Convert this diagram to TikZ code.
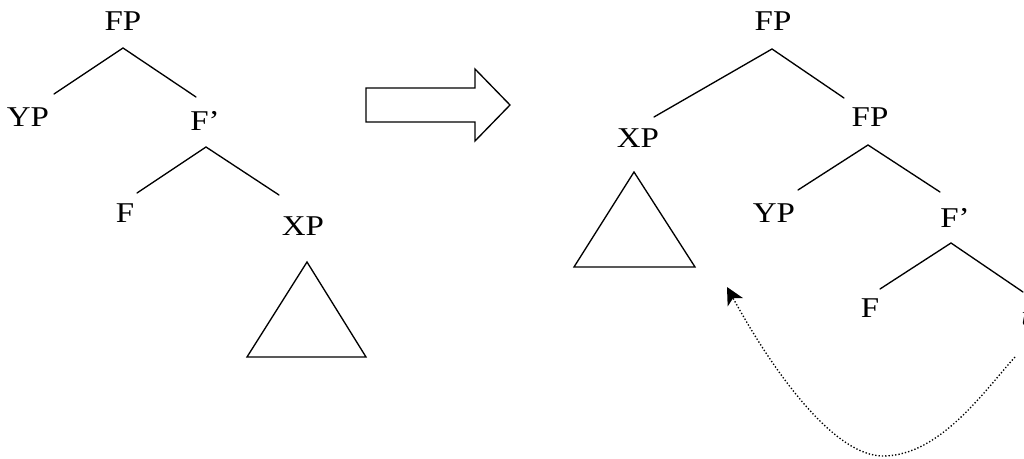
\documentclass[tikz,border=0pt]{standalone}
\usepackage{fontspec}
\setmainfont{Liberation Serif}[FakeStretch=1.15]
\usetikzlibrary{arrows.meta}
\begin{document}
\begin{tikzpicture}[x=0.75pt,y=-0.75pt,
  lbl/.style={anchor=base,inner sep=0pt,font=\fontsize{21.5pt}{25pt}\selectfont},
  branch/.style={line width=1pt,line cap=round},
  tri/.style={line width=1pt,line join=miter},
  movearrow/.style={line width=1pt,dash pattern=on 1pt off 1.5pt,
    -{Stealth[length=13pt,width=13pt,inset=3.5pt]}}]
\useasboundingbox (0,0) rectangle (1024,459);
\clip (0,0) rectangle (1024,459);

% ---------- left tree ----------
\node[lbl] (lfp) at (123,31) {FP};
\node[lbl] (lyp) at (28,127) {YP};
\node[lbl] (lfbar) at (205,131) {F’};
\node[lbl] (lf) at (125,223) {F};
\node[lbl] (lxp) at (303,236) {XP};
\coordinate (la1) at (123,48);
\coordinate (la1l) at (54,94);
\coordinate (la1r) at (196,97);
\coordinate (la2) at (206,147);
\coordinate (la2l) at (137,193);
\coordinate (la2r) at (279,195);
\draw[branch] (la1l) -- (la1) -- (la1r);
\draw[branch] (la2l) -- (la2) -- (la2r);
\coordinate (lt1) at (307,262);
\coordinate (lt2) at (247,357);
\coordinate (lt3) at (366,357);
\draw[tri] (lt1) -- (lt2) -- (lt3) -- cycle;

% ---------- block arrow ----------
\draw[line width=1pt] (366,88) -- (475,88) -- (475,69) -- (510,105)
  -- (475,141) -- (475,122) -- (366,122) -- cycle;

% ---------- right tree ----------
\node[lbl] (rfp) at (773,31) {FP};
\node[lbl] (rxp) at (638,148) {XP};
\node[lbl] (rfp2) at (870,127) {FP};
\node[lbl] (ryp) at (774,223) {YP};
\node[lbl] (rfbar) at (955,228) {F’};
\node[lbl] (rf) at (870,318) {F};
\node[lbl,anchor=base west] (rt) at (1021,326) {\itshape t};
\coordinate (ra1) at (772,49);
\coordinate (ra1l) at (654,117);
\coordinate (ra1r) at (844,98);
\coordinate (ra2) at (868,145);
\coordinate (ra2l) at (798,190);
\coordinate (ra2r) at (940,192);
\coordinate (ra3) at (951,243);
\coordinate (ra3l) at (880,289);
\coordinate (ra3r) at (1023,292);
\draw[branch] (ra1l) -- (ra1) -- (ra1r);
\draw[branch] (ra2l) -- (ra2) -- (ra2r);
\draw[branch] (ra3l) -- (ra3) -- (ra3r);
\coordinate (rt1) at (634,172);
\coordinate (rt2) at (574,267);
\coordinate (rt3) at (695,267);
\draw[tri] (rt1) -- (rt2) -- (rt3) -- cycle;

% ---------- movement arrow ----------
\coordinate (mvstart) at (1015,357);
\coordinate (mvbottom) at (883,456);
\coordinate (mvend) at (727,287);
\draw[movearrow] (mvstart) .. controls (985,390) and (940,456) .. (mvbottom)
  .. controls (835,456) and (775,375) .. (mvend);
\end{tikzpicture}
\end{document}
